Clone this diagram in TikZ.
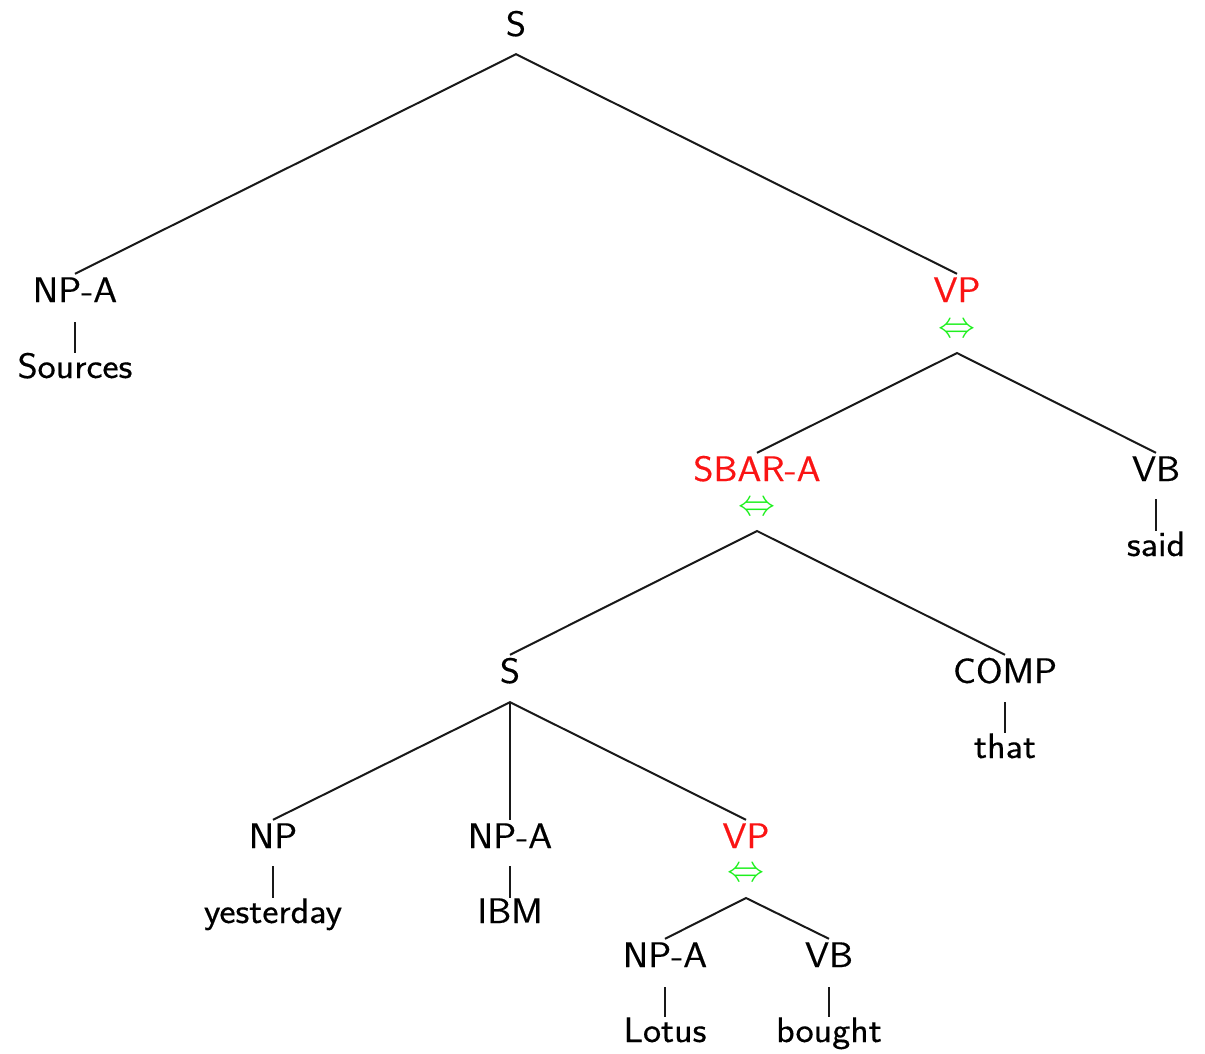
\documentclass[tikz,border=0pt]{standalone}
\usepackage{graphicx}
\usepackage{fontspec}
\setsansfont{Latin Modern Sans}[FakeStretch=1.08, FakeBold=0.4]
\definecolor{eqgreen}{RGB}{30,240,30}
\definecolor{hotred}{RGB}{250,20,20}
\newcommand{\eqsym}{\smash{\resizebox{37pt}{!}{$\Leftrightarrow$}}}
\begin{document}
\begin{tikzpicture}[x=1pt,y=-1pt,
  cat/.style={font=\fontsize{35.5}{40}\selectfont\sffamily, inner sep=0pt, text height=28pt, text depth=0pt, anchor=base},
  word/.style={cat},
  hot/.style={cat, text=hotred},
  eqv/.style={inner sep=0pt, text=eqgreen, anchor=base},
  edge/.style={line width=2pt, black!90},
]
\useasboundingbox (0,0) rectangle (1205,1053);
% nodes
\node[cat] (s0) at (516,36) {S};
\node[cat] (npa1) at (75,302) {NP-A};
\node[word] (w1) at (75,378) {Sources};
\node[hot] (vp1) at (957,302) {VP};
\node[eqv] (e1) at (957,337) {\eqsym};
\node[hot] (sbar) at (757,481) {SBAR-A};
\node[eqv] (e2) at (757,515) {\eqsym};
\node[cat] (vb1) at (1156,481) {VB};
\node[word] (w2) at (1156,556) {said};
\node[cat] (s1) at (510,683) {S};
\node[cat] (comp) at (1005,683) {COMP};
\node[word] (w3) at (1005,758) {that};
\node[cat] (np) at (273,848) {NP};
\node[word] (w4) at (273,923) {yesterday};
\node[cat] (npa2) at (510,848) {NP-A};
\node[word] (w5) at (510,923) {IBM};
\node[hot] (vp2) at (746,848) {VP};
\node[eqv] (e3) at (746,881) {\eqsym};
\node[cat] (npa3) at (665,967) {NP-A};
\node[word] (w6) at (665,1042) {Lotus};
\node[cat] (vb2) at (829,967) {VB};
\node[word] (w7) at (829,1042) {bought};
% branches
\draw[edge] (npa1.north) -- ([yshift=-18pt]s0.south) -- (vp1.north);
\draw[edge] (sbar.north) -- ([yshift=-16pt]e1.base) -- (vb1.north);
\draw[edge] (s1.north) -- ([yshift=-16pt]e2.base) -- (comp.north);
\draw[edge] (np.north) -- ([yshift=-19pt]s1.south) -- (vp2.north);
\draw[edge] ([yshift=-19pt]s1.south) -- (npa2.north);
\draw[edge] (npa3.north) -- ([yshift=-17pt]e3.base) -- (vb2.north);
% unary
\draw[edge] ([yshift=-20pt]npa1.south) -- ([yshift=-3pt]w1.north);
\draw[edge] ([yshift=-18pt]vb1.south) -- ([yshift=-3pt]w2.north);
\draw[edge] ([yshift=-19pt]comp.south) -- ([yshift=-3pt]w3.north);
\draw[edge] ([yshift=-18pt]np.south) -- ([yshift=-3pt]w4.north);
\draw[edge] ([yshift=-18pt]npa2.south) -- ([yshift=-3pt]w5.north);
\draw[edge] ([yshift=-20pt]npa3.south) -- ([yshift=-3pt]w6.north);
\draw[edge] ([yshift=-20pt]vb2.south) -- ([yshift=-3pt]w7.north);
\end{tikzpicture}
\end{document}
